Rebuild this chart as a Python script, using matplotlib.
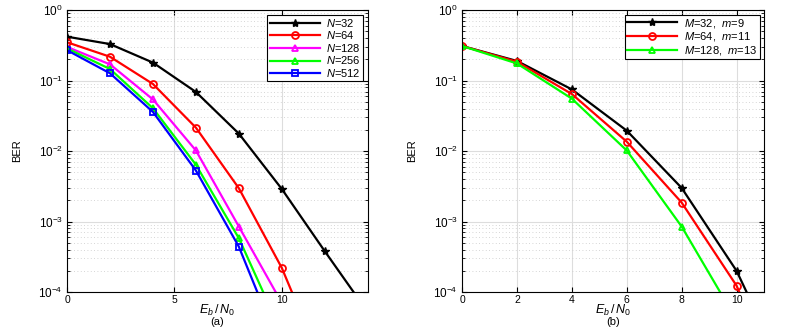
import numpy as np
import matplotlib
matplotlib.use("Agg")
import matplotlib.pyplot as plt

plt.rcParams["font.family"] = ["Liberation Sans", "DejaVu Sans"]
plt.rcParams["mathtext.fontset"] = "custom"
plt.rcParams["mathtext.rm"] = "Liberation Sans"
plt.rcParams["mathtext.it"] = "Liberation Sans:italic"

# ---- data ---------------------------------------------------------------
snr_a = [0, 2, 4, 6, 8, 10, 12, 14]
ber_n32  = [0.42, 0.33, 0.18, 0.069, 0.0177, 0.0029, 3.8e-4, 5.2e-5]
ber_n64  = [0.35, 0.218, 0.0895, 0.0215, 0.00297, 2.2e-4, 7.7e-6]
ber_n128 = [0.30, 0.17, 0.054, 0.0102, 8.5e-4, 7.0e-5]
ber_n256 = [0.286, 0.146, 0.0405, 0.0064, 5.8e-4, 2.6e-5]
ber_n512 = [0.27, 0.127, 0.0359, 0.0053, 4.4e-4, 1.4e-5]
labels_a = ["$N$=32", "$N$=64", "$N$=128", "$N$=256", "$N$=512"]

snr_b = [0, 2, 4, 6, 8, 10, 12]
ber_m32  = [0.31, 0.19, 0.075, 0.0195, 0.0030, 2.0e-4, 4.5e-6]
ber_m64  = [0.31, 0.185, 0.0645, 0.0136, 0.00186, 1.23e-4, 2.0e-6]
ber_m128 = [0.31, 0.175, 0.0555, 0.0102, 8.5e-4, 4.0e-5]
labels_b = ["$M$=32,  $m$=9", "$M$=64,  $m$=11", "$M$=128,  $m$=13"]

series_a = [ber_n32, ber_n64, ber_n128, ber_n256, ber_n512]
series_b = [ber_m32, ber_m64, ber_m128]

styles_a = [("black", "*"), ("red", "o"), ("magenta", "^"), ("lime", "^"), ("blue", "s")]
styles_b = [("black", "*"), ("red", "o"), ("lime", "^")]


def draw_panel(ax, snr, series, labels, styles, xmax, xticks, caption):
    for ber, lab, (col, mk) in zip(series, labels, styles):
        n = len(ber)
        if mk == "*":
            ax.semilogy(snr[:n], ber, color=col, lw=1.6, marker=mk, ms=6,
                        mfc=col, mec=col, label=lab)
        else:
            ax.semilogy(snr[:n], ber, color=col, lw=1.6, marker=mk, ms=5,
                        mfc="none", mec=col, mew=1.3, label=lab)
    ax.set_xlim(0, xmax)
    ax.set_ylim(1e-4, 1)
    ax.set_xticks(xticks)
    ax.grid(True, which="major", color="#dddddd", lw=0.8, ls="-")
    ax.grid(True, which="minor", color="#c8c8c8", lw=0.6, ls=(0, (1, 3)))
    ax.tick_params(which="both", direction="in", top=True, right=True, pad=2)
    ax.tick_params(axis="x", labelsize=7.5)
    ax.tick_params(axis="y", labelsize=8.5, pad=3)
    ax.set_ylabel("BER", fontsize=8, labelpad=12)
    ax.text(0.5, -0.067, "$E_b\\,/\\,N_0$", transform=ax.transAxes, fontsize=9,
            ha="center", va="center")
    ax.text(0.5, -0.108, caption, transform=ax.transAxes, fontsize=8,
            ha="center", va="center")
    for s in ax.spines.values():
        s.set_linewidth(0.8)
    leg = ax.legend(loc="upper right", fontsize=8, frameon=True, fancybox=False,
                    framealpha=1, edgecolor="black", handlelength=4.5,
                    borderpad=0.2, labelspacing=0.05, handletextpad=0.6,
                    borderaxespad=0.4)
    leg.get_frame().set_linewidth(0.8)


fig = plt.figure(figsize=(7.89, 3.27), dpi=100)
ax1 = fig.add_axes([0.085, 0.107, 0.381, 0.862])
ax2 = fig.add_axes([0.5856, 0.107, 0.3827, 0.862])

draw_panel(ax1, snr_a, series_a, labels_a, styles_a, 14, [0, 5, 10], "(a)")
draw_panel(ax2, snr_b, series_b, labels_b, styles_b, 11, [0, 2, 4, 6, 8, 10], "(b)")

fig.savefig("out.png", dpi=100)
